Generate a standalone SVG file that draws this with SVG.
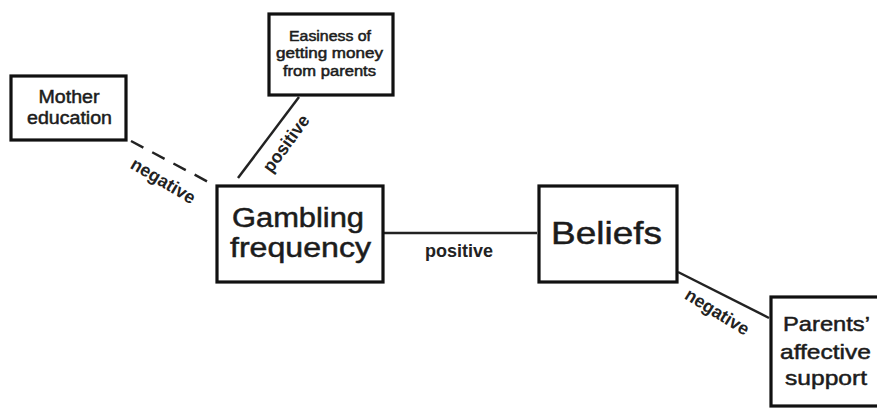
<svg xmlns="http://www.w3.org/2000/svg" width="877" height="408" viewBox="0 0 877 408">
<style>
.box{fill:#fff;stroke:#111;stroke-width:3.2}
.t{font-family:"Liberation Sans",Arial,sans-serif;fill:#1c1c1c;stroke:#1c1c1c;stroke-width:0.5;text-anchor:middle}
.lbl{font-family:"Liberation Sans",Arial,sans-serif;fill:#222;text-anchor:middle;font-size:18px;font-weight:bold}
.ln{stroke:#222;stroke-width:2.5;fill:none}
</style>
<rect width="877" height="408" fill="#fff"/>
<g id="connectors">
<line class="ln" x1="131" y1="141" x2="214" y2="185" stroke-dasharray="14,10"/>
<line class="ln" x1="299" y1="97" x2="238" y2="178"/>
<line class="ln" x1="384" y1="233" x2="537" y2="233"/>
<line class="ln" x1="678" y1="272" x2="769" y2="318"/>
<text class="lbl" transform="translate(160,186) rotate(31)" textLength="72" lengthAdjust="spacingAndGlyphs">negative</text>
<text class="lbl" transform="translate(291,147) rotate(-54)" textLength="66" lengthAdjust="spacingAndGlyphs">positive</text>
<text class="lbl" x="459" y="257" textLength="68" lengthAdjust="spacingAndGlyphs">positive</text>
<text class="lbl" transform="translate(714,317) rotate(32)" textLength="72" lengthAdjust="spacingAndGlyphs">negative</text>
</g>
<g id="mother">
<rect class="box" x="11" y="76" width="115" height="64"/>
<text class="t" font-size="18" x="69" y="103" textLength="61" lengthAdjust="spacingAndGlyphs">Mother</text>
<text class="t" font-size="18" x="69.5" y="124" textLength="85" lengthAdjust="spacingAndGlyphs">education</text>
</g>
<g id="easiness">
<rect class="box" x="269" y="14" width="124" height="81"/>
<text class="t" font-size="14" x="330" y="41" stroke-width="0.3" textLength="82" lengthAdjust="spacingAndGlyphs">Easiness of</text>
<text class="t" font-size="14" x="329.5" y="58" stroke-width="0.3" textLength="107" lengthAdjust="spacingAndGlyphs">getting money</text>
<text class="t" font-size="14" x="329.5" y="76" stroke-width="0.3" textLength="93" lengthAdjust="spacingAndGlyphs">from parents</text>
</g>
<g id="gambling">
<rect class="box" x="217" y="186" width="166" height="96"/>
<text class="t" font-size="27" x="298" y="227" textLength="132" lengthAdjust="spacingAndGlyphs">Gambling</text>
<text class="t" font-size="27" x="300.5" y="257" textLength="141" lengthAdjust="spacingAndGlyphs">frequency</text>
</g>
<g id="beliefs">
<rect class="box" x="539" y="186" width="138" height="96"/>
<text class="t" font-size="32" x="606.5" y="244" textLength="111" lengthAdjust="spacingAndGlyphs">Beliefs</text>
</g>
<g id="parents">
<rect class="box" x="771" y="297" width="110" height="109"/>
<text class="t" font-size="21" x="826.5" y="331" textLength="87" lengthAdjust="spacingAndGlyphs">Parents’</text>
<text class="t" font-size="21" x="825.5" y="359" textLength="91" lengthAdjust="spacingAndGlyphs">affective</text>
<text class="t" font-size="21" x="826" y="385" textLength="82" lengthAdjust="spacingAndGlyphs">support</text>
</g>
</svg>
